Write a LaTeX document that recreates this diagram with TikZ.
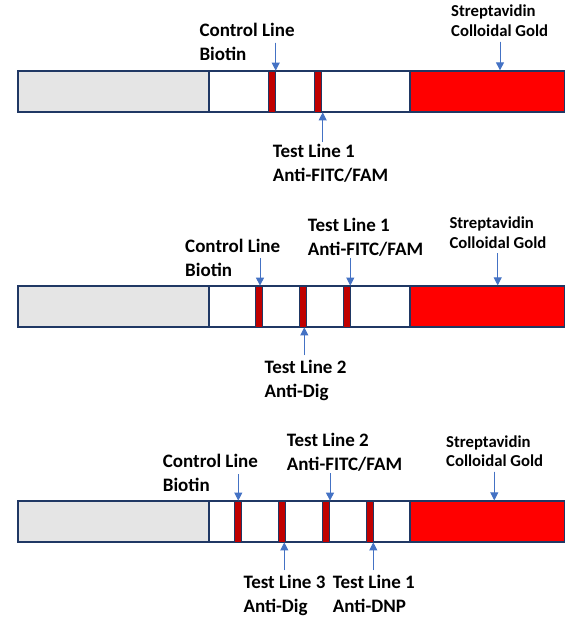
\documentclass[tikz,border=0pt]{standalone}
\usepackage{fontspec}
\setmainfont{Carlito}
\usepackage{xcolor}
\usepackage{tikz}
\usetikzlibrary{arrows.meta,positioning}

\definecolor{navyedge}{HTML}{203864}
\definecolor{padgray}{HTML}{E5E5E5}
\definecolor{goldred}{HTML}{FF0000}
\definecolor{linered}{HTML}{C00000}
\definecolor{arrowblue}{HTML}{4472C4}

\begin{document}
\begin{tikzpicture}[
        x=1pt, y=-1pt,
        pad/.style={rectangle, draw=navyedge, line width=1.3pt, fill=padgray, inner sep=0pt, minimum width=191pt, minimum height=41pt},
        membrane/.style={rectangle, draw=navyedge, line width=1.3pt, fill=white, inner sep=0pt, minimum width=201pt, minimum height=41pt},
        conjugate/.style={rectangle, draw=navyedge, line width=1.3pt, fill=goldred, inner sep=0pt, minimum width=154.5pt, minimum height=41pt},
        band/.style={rectangle, draw=navyedge, line width=0.8pt, fill=linered, inner sep=0pt, minimum width=7pt, minimum height=41pt},
        label/.style={anchor=base west, align=left, inner sep=0pt, font=\bfseries\fontsize{19}{24}\selectfont},
        goldlabel/.style={anchor=base west, align=left, inner sep=0pt, font=\bfseries\fontsize{16.7}{19.5}\selectfont},
        arrow/.style={-{Triangle[length=8pt,width=8pt]}, draw=arrowblue, fill=arrowblue, line width=1pt}
    ]
    \useasboundingbox (0,0) rectangle (587,622);

    % Strip 1: one test line
    \node[pad] (padA) at (113.5,91.5) {};
    \node[membrane] (memA) at (309.5,91.5) {};
    \node[conjugate] (goldA) at (487.25,91.5) {};
    \node[band] (ctrlA) at (272.2,91.5) {};
    \node[band] (testoneA) at (318.2,91.5) {};

    % labels sit on the baseline of their last line
    \node[label] (ctrlAlbl) at (199.3,60.7) {Control Line\\Biotin};
    \node[label] (testoneAlbl) at (272.7,181.7) {Test Line 1\\Anti-FITC/FAM};
    \node[goldlabel] (goldAlbl) at (451,36) {Streptavidin\\Colloidal Gold};

    \coordinate (ctrlAtail) at (275.7,42.7);
    \coordinate (testoneAtail) at (322.7,142);
    \coordinate (goldAtail) at (500,41.7);
    \draw[arrow] (ctrlAtail) -- (ctrlAtail |- ctrlA.north);
    \draw[arrow] (testoneAtail) -- (testoneAtail |- testoneA.south);
    \draw[arrow] (goldAtail) -- (goldAtail |- goldA.north);

    % Strip 2: two test lines
    \node[pad] (padB) at (113.5,306.5) {};
    \node[membrane] (memB) at (309.5,306.5) {};
    \node[conjugate] (goldB) at (487.25,306.5) {};
    \node[band] (ctrlB) at (258.8,306.5) {};
    \node[band] (testtwoB) at (302.8,306.5) {};
    \node[band] (testoneB) at (347.2,306.5) {};

    \node[label] (ctrlBlbl) at (185,276) {Control Line\\Biotin};
    \node[label] (testoneBlbl) at (307.7,255) {Test Line 1\\Anti-FITC/FAM};
    \node[label] (testtwoBlbl) at (264.3,397.3) {Test Line 2\\Anti-Dig};
    \node[goldlabel] (goldBlbl) at (449.3,248.3) {Streptavidin\\Colloidal Gold};

    \coordinate (ctrlBtail) at (260,258.3);
    \coordinate (testoneBtail) at (350.3,258.3);
    \coordinate (testtwoBtail) at (304.3,355);
    \coordinate (goldBtail) at (497.7,253.3);
    \draw[arrow] (ctrlBtail) -- (ctrlBtail |- ctrlB.north);
    \draw[arrow] (testoneBtail) -- (testoneBtail |- testoneB.north);
    \draw[arrow] (testtwoBtail) -- (testtwoBtail |- testtwoB.south);
    \draw[arrow] (goldBtail) -- (goldBtail |- goldB.north);

    % Strip 3: three test lines
    \node[pad] (padC) at (113.5,521.5) {};
    \node[membrane] (memC) at (309.5,521.5) {};
    \node[conjugate] (goldC) at (487.25,521.5) {};
    \node[band] (ctrlC) at (238.2,521.5) {};
    \node[band] (testthreeC) at (282.2,521.5) {};
    \node[band] (testtwoC) at (326.2,521.5) {};
    \node[band] (testoneC) at (370.2,521.5) {};

    \node[label] (ctrlClbl) at (162.7,491.7) {Control Line\\Biotin};
    \node[label] (testtwoClbl) at (286.7,470.7) {Test Line 2\\Anti-FITC/FAM};
    \node[label] (testthreeClbl) at (243.3,612.3) {Test Line 3\\Anti-Dig};
    \node[label] (testoneClbl) at (332.7,612.3) {Test Line 1\\Anti-DNP};
    \node[goldlabel] (goldClbl) at (446,466.7) {Streptavidin\\Colloidal Gold};

    \coordinate (ctrlCtail) at (238.3,474.3);
    \coordinate (testtwoCtail) at (330,473.3);
    \coordinate (testthreeCtail) at (284.3,570);
    \coordinate (testoneCtail) at (373.3,570);
    \coordinate (goldCtail) at (494.3,471.7);
    \draw[arrow] (ctrlCtail) -- (ctrlCtail |- ctrlC.north);
    \draw[arrow] (testtwoCtail) -- (testtwoCtail |- testtwoC.north);
    \draw[arrow] (testthreeCtail) -- (testthreeCtail |- testthreeC.south);
    \draw[arrow] (testoneCtail) -- (testoneCtail |- testoneC.south);
    \draw[arrow] (goldCtail) -- (goldCtail |- goldC.north);

\end{tikzpicture}
\end{document}
